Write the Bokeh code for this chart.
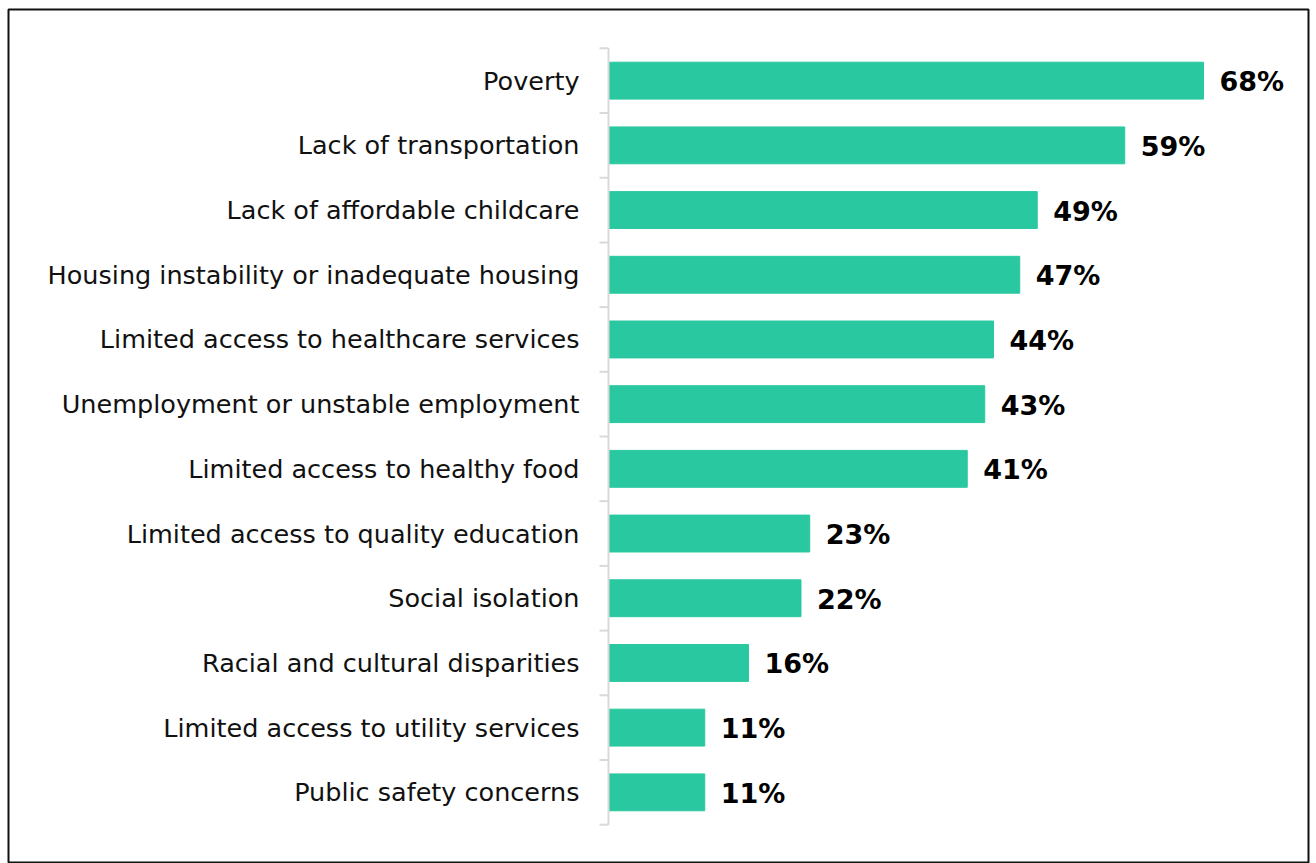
from bokeh.plotting import figure
from bokeh.models import Range1d, FactorRange, ColumnDataSource
from bokeh.core.properties import value
from bokeh.embed import file_html
from bokeh.resources import INLINE

# Survey results: share of respondents naming each barrier (top to bottom)
categories = [
    "Poverty",
    "Lack of transportation",
    "Lack of affordable childcare",
    "Housing instability or inadequate housing",
    "Limited access to healthcare services",
    "Unemployment or unstable employment",
    "Limited access to healthy food",
    "Limited access to quality education",
    "Social isolation",
    "Racial and cultural disparities",
    "Limited access to utility services",
    "Public safety concerns",
]
percentages = [68, 59, 49, 47, 44, 43, 41, 23, 22, 16, 11, 11]
value_labels = [f"{v}%" for v in percentages]

BAR_COLOR = "#2AC8A0"
AXIS_COLOR = "#d9d9d9"
LABEL_FONT = "DejaVu Sans"

W, H = 1316, 863
BORDER_L, BORDER_R, BORDER_T, BORDER_B = 8, 8, 9, 0
X_MIN, X_MAX = -68.57, 80.0

# bottom-to-top order for the categorical axis
factors = list(reversed(categories))

p = figure(
    width=W, height=H,
    x_range=Range1d(X_MIN, X_MAX),
    y_range=FactorRange(factors=factors, range_padding=0.6,
                        range_padding_units="absolute"),
    output_backend="svg",
    toolbar_location=None,
    min_border_left=BORDER_L, min_border_right=BORDER_R,
    min_border_top=BORDER_T, min_border_bottom=BORDER_B,
)
p.outline_line_color = "#111111"
p.outline_line_width = 2
p.background_fill_color = "white"
p.border_fill_color = "white"
p.xgrid.visible = False
p.ygrid.visible = False
p.xaxis.visible = False

src = ColumnDataSource(dict(cat=categories, pct=percentages, lbl=value_labels))

p.hbar(y="cat", left=0, right="pct", height=0.57, source=src,
       fill_color=BAR_COLOR, line_color=BAR_COLOR, line_width=1)

p.text(x="pct", y="cat", text="lbl", source=src, x_offset=16, y_offset=1,
       text_baseline="middle", text_align="left",
       text_font=value(LABEL_FONT), text_font_style="bold",
       text_font_size="27px", text_color="black")

# category axis drawn along x = 0
yax = p.yaxis[0]
yax.fixed_location = 0
yax.axis_line_color = None
yax.major_tick_line_color = None
yax.minor_tick_line_color = None
yax.major_label_standoff = 23
yax.major_label_text_font = LABEL_FONT
yax.major_label_text_font_size = "25.5px"
yax.major_label_text_color = "#111111"

# axis spine and separator ticks between categories (synthetic coords 0..n)
n = len(categories)
px_per_unit = (W - BORDER_L - BORDER_R) / (X_MAX - X_MIN)
tick_len = 9 / px_per_unit
p.segment(x0=[0], y0=[0], x1=[0], y1=[n], line_color=AXIS_COLOR, line_width=2)
p.segment(x0=[-tick_len] * (n + 1), y0=list(range(n + 1)),
          x1=[0] * (n + 1), y1=list(range(n + 1)),
          line_color=AXIS_COLOR, line_width=2)

open("out.html", "w").write(file_html(p, INLINE))
